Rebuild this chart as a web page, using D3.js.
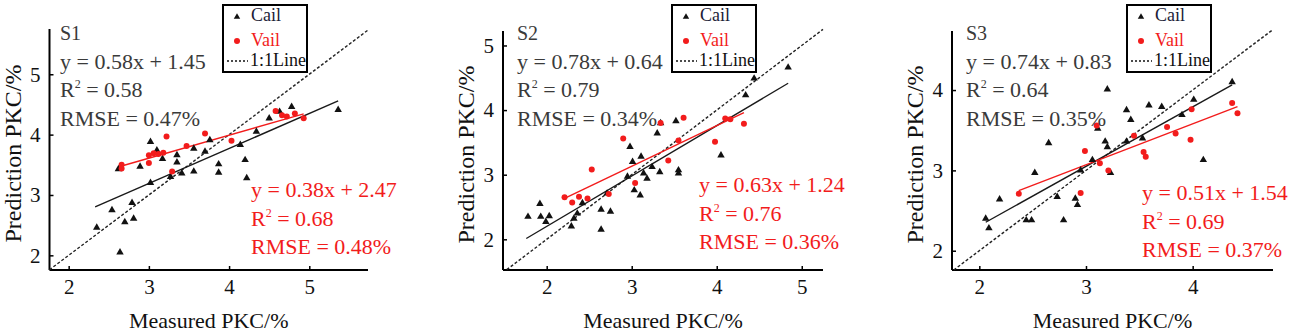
<!DOCTYPE html>
<html>
<head>
<meta charset="utf-8">
<script src="https://cdn.jsdelivr.net/npm/d3@7"></script>
<style>
  body { margin: 0; background: #fff; }
  svg { display: block; }
</style>
</head>
<body>
<div id="chart"></div>
<script>
// ---- data: [measured, predicted] ----
const s1Cal = [[2.35,2.46],[2.54,2.75],[2.64,2.05],[2.70,2.55],[2.79,2.87],[2.81,2.61],[2.62,3.43],
  [2.89,3.47],[3.02,3.88],[3.02,3.20],[3.10,3.74],[3.17,3.60],[3.27,3.30],[3.35,3.66],[3.35,3.54],
  [3.41,3.36],[3.56,3.77],[3.56,3.39],[3.70,3.72],[3.76,3.91],[3.87,3.51],[3.87,3.37],[4.14,3.83],
  [4.20,3.58],[4.22,3.28],[4.34,4.05],[4.50,4.27],[4.63,4.38],[4.78,4.46],[5.36,4.41]];
const s1Val = [[2.66,3.50],[2.66,3.44],[3.00,3.66],[3.00,3.53],[3.06,3.69],[3.12,3.68],[3.18,3.70],
  [3.22,3.97],[3.29,3.39],[3.47,3.81],[3.70,4.02],[4.03,3.90],[4.58,4.39],[4.66,4.32],[4.72,4.30],
  [4.82,4.35],[4.93,4.27]];

const s2Cal = [[1.78,2.35],[1.92,2.55],[1.93,2.35],[1.99,2.27],[2.03,2.36],[2.29,2.20],[2.32,2.32],
  [2.36,2.40],[2.42,2.56],[2.64,2.15],[2.64,2.46],[2.75,2.43],[2.71,2.71],[2.98,3.43],[3.03,2.76],
  [3.01,3.20],[3.10,2.68],[3.11,3.28],[3.14,3.02],[3.18,2.94],[3.24,3.12],[3.30,3.64],[3.33,3.04],
  [3.34,3.80],[3.52,3.83],[3.55,3.07],[3.55,3.02],[4.05,3.30],[4.34,4.23],[4.44,4.49],[4.84,4.66],
  [2.95,2.97]];
const s2Val = [[2.21,2.65],[2.30,2.57],[2.38,2.66],[2.48,2.63],[2.53,3.08],[2.73,2.70],[2.90,3.56],
  [3.04,2.87],[3.34,3.80],[3.43,3.22],[3.55,3.53],[3.61,3.88],[3.98,3.51],[4.10,3.87],[4.16,3.86],
  [4.32,3.79]];

const s3Cal = [[2.06,2.40],[2.09,2.28],[2.19,2.64],[2.44,2.38],[2.49,2.38],[2.52,2.97],[2.65,3.34],
  [2.73,2.67],[2.79,2.38],[2.90,2.65],[2.92,2.57],[3.11,3.52],[3.18,3.36],[3.20,3.29],[3.20,4.01],
  [3.23,2.97],[3.38,3.75],[3.42,3.63],[3.38,3.36],[3.53,3.40],[3.59,3.81],[3.71,3.79],[3.90,3.69],
  [4.01,3.88],[4.10,3.13],[4.37,4.10],[2.95,3.00],[3.06,3.13]];
const s3Val = [[2.37,2.71],[2.95,2.72],[2.99,3.24],[3.10,3.56],[3.13,3.09],[3.21,3.00],[3.45,3.43],
  [3.54,3.23],[3.56,3.17],[3.76,3.54],[3.84,3.46],[3.98,3.38],[3.99,3.76],[4.37,3.84],[4.42,3.71]];

// fitted lines: [slope, intercept, xStart, xEnd]
const s1Fits = { cal: [0.58, 1.45, 2.33, 5.36], val: [0.38, 2.47, 2.66, 4.93] };
const s2Fits = { cal: [0.78, 0.64, 1.76, 4.84], val: [0.63, 1.24, 2.21, 4.32] };
const s3Fits = { cal: [0.74, 0.83, 2.06, 4.37], val: [0.51, 1.54, 2.37, 4.42] };

const panelNames = ["S1", "S2", "S3"];
const calText = [["y = 0.58x + 1.45", "0.58", "RMSE = 0.47%"],
                 ["y = 0.78x + 0.64", "0.79", "RMSE = 0.34%"],
                 ["y = 0.74x + 0.83", "0.64", "RMSE = 0.35%"]];
const valText = [["y = 0.38x + 2.47", "0.68", "RMSE = 0.48%"],
                 ["y = 0.63x + 1.24", "0.76", "RMSE = 0.36%"],
                 ["y = 0.51x + 1.54", "0.69", "RMSE = 0.37%"]];
const tickValues = [[2, 3, 4, 5], [2, 3, 4, 5], [2, 3, 4]];
const legendLabels = ["Cail", "Vail", "1:1Line"];
const xTitle = "Measured PKC/%";
const yTitle = "Prediction PKC/%";

// ---- layout ----
const width = 1299, height = 332;
const RED = "#f21c1c", GREY = "#3a3a3a";
const FONT = '"Liberation Serif", monospace';

const panels = [
  { cal: s1Cal, val: s1Val, fits: s1Fits, left: 49.5, right: 368, top: 29, bottom: 270,
    xDom: [1.761, 5.732], yDom: [1.757, 5.75], oneToOne: [1.76, 5.73],
    calX: 60, redX: 251, redY: 197, legendX: 223 },
  { cal: s2Cal, val: s2Val, fits: s2Fits, left: 503, right: 823, top: 31, bottom: 270,
    xDom: [1.486, 5.25], yDom: [1.525, 5.224], oneToOne: [1.53, 5.25],
    calX: 517, redX: 699, redY: 192, legendX: 672 },
  { cal: s3Cal, val: s3Val, fits: s3Fits, left: 952, right: 1273, top: 31, bottom: 270,
    xDom: [1.744, 4.753], yDom: [1.76, 4.735], oneToOne: [1.76, 4.75],
    calX: 966, redX: 1142, redY: 200, legendX: 1127 }
];

const svg = d3.select("#chart").append("svg")
  .attr("width", width)
  .attr("height", height);

function addText(g, x, y, size, color, str) {
  return g.append("text").attr("x", x).attr("y", y)
    .attr("font-size", size).attr("fill", color)
    .style("font-family", FONT)
    .text(str);
}

function addStatLines(g, x, y0, lines, color) {
  const step = 28.5;
  addText(g, x, y0, 22, color, lines[0]);
  const r2 = addText(g, x, y0 + step, 22, color, null);
  r2.append("tspan").text("R");
  r2.append("tspan").attr("font-size", 12).attr("dy", -9).text("2");
  r2.append("tspan").attr("dy", 9).text(" = " + lines[1]);
  addText(g, x, y0 + step * 2, 22, color, lines[2]);
}

function drawPanel(p, i) {
  const g = svg.append("g");
  const x = d3.scaleLinear().domain(p.xDom).range([p.left, p.right]);
  const y = d3.scaleLinear().domain(p.yDom).range([p.bottom, p.top]);

  // axes: left and bottom only, ticks pointing inward
  const xAxis = d3.axisBottom(x).tickValues(tickValues[i]).tickFormat(d3.format("d"))
    .tickSize(-4).tickPadding(9).tickSizeOuter(0);
  const yAxis = d3.axisLeft(y).tickValues(tickValues[i]).tickFormat(d3.format("d"))
    .tickSize(-4).tickPadding(9).tickSizeOuter(0);

  const gx = g.append("g").attr("transform", `translate(0,${p.bottom})`).call(xAxis);
  const gy = g.append("g").attr("transform", `translate(${p.left},0)`).call(yAxis);
  [gx, gy].forEach(a => {
    a.attr("font-family", null);
    a.select(".domain").attr("stroke", "#000").attr("stroke-width", 2);
    a.selectAll(".tick line").attr("stroke", "#000").attr("stroke-width", 1.5);
    a.selectAll(".tick text").attr("fill", "#111").attr("font-size", 21)
      .style("font-family", FONT);
  });
  gx.select(".domain").attr("d", `M${p.left},0H${p.right}`);
  gy.select(".domain").attr("d", `M0,${p.bottom}V${p.top}`);

  // axis titles
  addText(g, (p.left + p.right) / 2, 328, 22, "#111", xTitle)
    .attr("text-anchor", "middle");
  addText(g, 0, 0, 24, "#111", yTitle)
    .attr("text-anchor", "middle")
    .attr("transform", `translate(${p.left - 29},${(p.top + p.bottom) / 2 + 4}) rotate(-90)`);

  // 1:1 line
  g.append("line")
    .attr("x1", x(p.oneToOne[0])).attr("y1", y(p.oneToOne[0]))
    .attr("x2", x(p.oneToOne[1])).attr("y2", y(p.oneToOne[1]))
    .attr("stroke", "#222").attr("stroke-width", 1.4).attr("stroke-dasharray", "3,2");

  // fitted lines
  const fitLine = (f, color) => g.append("line")
    .attr("x1", x(f[2])).attr("y1", y(f[0] * f[2] + f[1]))
    .attr("x2", x(f[3])).attr("y2", y(f[0] * f[3] + f[1]))
    .attr("stroke", color).attr("stroke-width", 1.4);
  fitLine(p.fits.cal, "#1a1a1a");
  fitLine(p.fits.val, RED);

  // calibration points (triangles)
  const tri = d3.symbol().type(d3.symbolTriangle).size(24);
  g.selectAll(".cal").data(p.cal).enter().append("path")
    .attr("class", "cal")
    .attr("d", tri)
    .attr("transform", d => `translate(${x(d[0])},${y(d[1])})`)
    .attr("fill", "#111");

  // validation points (dots)
  g.selectAll(".val").data(p.val).enter().append("circle")
    .attr("class", "val")
    .attr("cx", d => x(d[0])).attr("cy", d => y(d[1]))
    .attr("r", 3).attr("fill", RED);

  // panel label and statistics
  addText(g, p.calX, 40, 20, GREY, panelNames[i]);
  addStatLines(g, p.calX, 68.5, calText[i], GREY);
  addStatLines(g, p.redX, p.redY, valText[i], RED);

  // legend
  const lg = g.append("g").attr("transform", `translate(${p.legendX},5)`);
  lg.append("rect").attr("width", 84).attr("height", 67)
    .attr("fill", "#fff").attr("stroke", "#000").attr("stroke-width", 2);
  lg.append("path").attr("d", d3.symbol().type(d3.symbolTriangle).size(18))
    .attr("transform", "translate(14,12)").attr("fill", "#111");
  lg.append("circle").attr("cx", 14).attr("cy", 36).attr("r", 3).attr("fill", RED);
  lg.append("line").attr("x1", 4).attr("x2", 25).attr("y1", 56).attr("y2", 56)
    .attr("stroke", "#111").attr("stroke-width", 1.5).attr("stroke-dasharray", "2,2");
  const legColors = ["#1d1d38", RED, "#111"];
  legendLabels.forEach((t, k) => {
    addText(lg, k === 2 ? 27 : 28, [16, 41, 61][k], 18, legColors[k], t);
  });
}

panels.forEach(drawPanel);
</script>
</body>
</html>
